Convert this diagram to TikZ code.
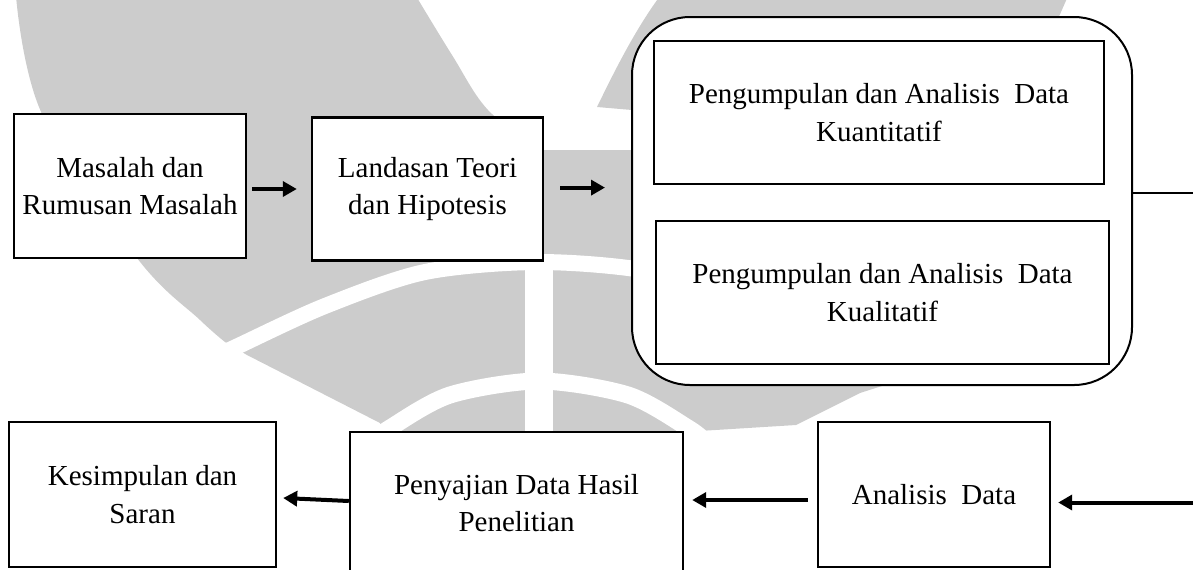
\documentclass[tikz,border=0pt]{standalone}
\usepackage{fontspec}
\setmainfont{Liberation Serif}
\usetikzlibrary{arrows.meta,calc}
\definecolor{wm}{RGB}{204,204,204}
\tikzset{
  box/.style={draw=black, line width=1.2pt, fill=white, inner sep=0pt, align=center,
    font=\fontsize{14.5}{18.75}\selectfont},
  inbox/.style={box, line width=1pt},
  grp/.style={draw=black, line width=1pt, fill=white, rounded corners=29pt, inner sep=0pt},
  arr/.style={line width=2pt, -{Triangle[length=7pt,width=7.5pt]}},
  wmband/.style={white, line width=8pt},
}
\begin{document}
\begin{tikzpicture}[x=0.5pt,y=-0.5pt]
\useasboundingbox (0,0) rectangle (1193,569);
\clip (0,0) rectangle (1193,569);
% watermark
\fill[wm] plot[smooth, tension=0.6] coordinates {(16,-4) (42,114) (137,258) (200,320) (225,342)}
  -- (247,355) -- (380,423) -- (386,440) -- (386,580) -- (683,580) -- (683,432)
  -- (796,425) -- (860,393) -- (885,385) -- (885,150) -- (540,150)
  -- plot[smooth, tension=0.6] coordinates {(540,150) (488,110) (452,55) (416,-4)} -- cycle;
\fill[wm] (597,107) .. controls (615,70) and (635,30) .. (660,-4) -- (1068,-4)
  -- (1040,60) -- (900,300) -- (800,300) -- (632,110) -- cycle;
\draw[wmband] plot[smooth] coordinates {(200,364) (236,347) (325,306) (425,272) (539,262) (653,272) (753,306) (842,347)};
\draw[wmband, line width=8.5pt] plot[smooth] coordinates {(372,442) (390,428) (450,395) (539,381) (628,395) (688,428) (706,442)};
\fill[white] (525,262) rectangle (553,580);
% boxes
\node[box, minimum width=116pt, minimum height=72pt] (mas) at (130,186) {Masalah dan\\Rumusan Masalah};
\node[box, minimum width=115.5pt, minimum height=71.5pt] (lan) at (427.5,189) {Landasan Teori\\dan Hipotesis};
\node[grp, minimum width=250pt, minimum height=184pt] (grp) at (882,201) {};
\node[inbox, minimum width=225pt, minimum height=71.5pt] (kuan) at (879,112.5) {Pengumpulan dan Analisis\ \ Data\\Kuantitatif};
\node[inbox, minimum width=226.5pt, minimum height=71.5pt] (kual) at (882.5,292.5) {Pengumpulan dan Analisis\ \ Data\\Kualitatif};
\node[box, minimum width=133.5pt, minimum height=72.5pt] (kes) at (142.5,494.5) {Kesimpulan dan\\Saran};
\node[box, minimum width=166.5pt, minimum height=71pt] (pen) at (516.5,503) {Penyajian Data Hasil\\Penelitian};
\node[box, minimum width=116pt, minimum height=72.5pt] (an) at (934,494.5) {Analisis\ \ Data};
% connectors
\coordinate (rt) at (1193,193);
\coordinate (rb) at (1193,502.5);
\draw[arr] ($(mas.east)+(2.5pt,-1.5pt)$) -- ($(mas.east -| lan.west)+(-7pt,-1.5pt)$);
\draw[arr] ($(lan.east)+(8pt,0.7pt)$) -- ($(lan.east -| grp.west)+(-13pt,0.7pt)$);
\draw[line width=1.2pt] (grp.east |- rt) -- (rt);
\draw[arr] (rb) -- ($(an.east |- rb)+(3.5pt,0)$);
\draw[arr] ($(an.west)+(-4.5pt,-2.75pt)$) -- ($(an.west -| pen.east)+(4pt,-2.75pt)$);
\draw[arr] ($(pen.west)+(0,1pt)$) -- ($(kes.east)+(3pt,-1.75pt)$);
\end{tikzpicture}
\end{document}
